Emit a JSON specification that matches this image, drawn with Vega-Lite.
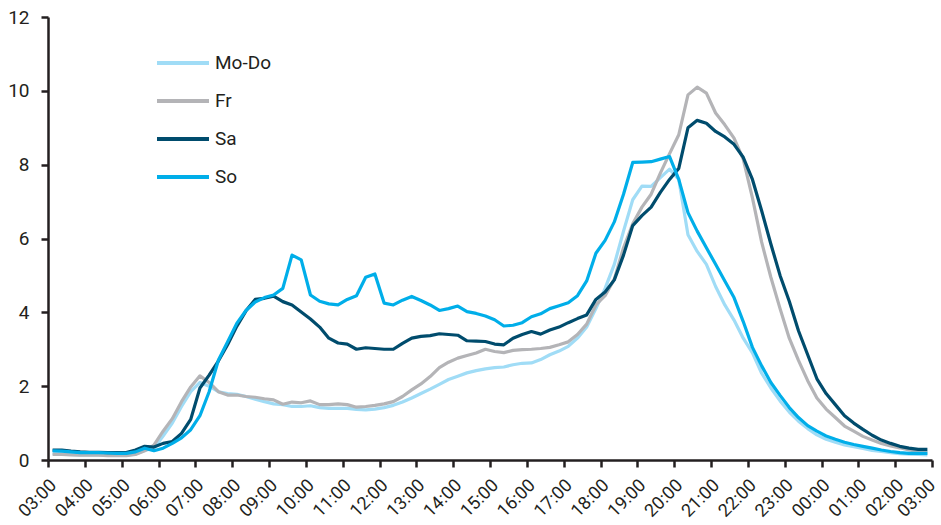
{
  "$schema": "https://vega.github.io/schema/vega-lite/v6.json",
  "width": 884,
  "height": 443,
  "autosize": {"type": "none"},
  "padding": {"left": 48, "top": 17, "right": 9, "bottom": 65},
  "background": "white",
  "config": {"view": {"stroke": null}, "font": "Roboto"},
  "data": {"values": [
    {"t":0.125,"Mo-Do":0.18,"Fr":0.15,"Sa":0.27,"So":0.25},
    {"t":0.375,"Mo-Do":0.17,"Fr":0.15,"Sa":0.27,"So":0.24},
    {"t":0.625,"Mo-Do":0.15,"Fr":0.14,"Sa":0.24,"So":0.22},
    {"t":0.875,"Mo-Do":0.14,"Fr":0.13,"Sa":0.22,"So":0.2},
    {"t":1.125,"Mo-Do":0.14,"Fr":0.13,"Sa":0.21,"So":0.2},
    {"t":1.375,"Mo-Do":0.14,"Fr":0.13,"Sa":0.21,"So":0.2},
    {"t":1.625,"Mo-Do":0.13,"Fr":0.12,"Sa":0.2,"So":0.19},
    {"t":1.875,"Mo-Do":0.13,"Fr":0.12,"Sa":0.2,"So":0.18},
    {"t":2.125,"Mo-Do":0.13,"Fr":0.12,"Sa":0.2,"So":0.18},
    {"t":2.375,"Mo-Do":0.16,"Fr":0.15,"Sa":0.27,"So":0.22},
    {"t":2.625,"Mo-Do":0.26,"Fr":0.25,"Sa":0.37,"So":0.32},
    {"t":2.875,"Mo-Do":0.32,"Fr":0.4,"Sa":0.35,"So":0.25},
    {"t":3.125,"Mo-Do":0.65,"Fr":0.78,"Sa":0.45,"So":0.32},
    {"t":3.375,"Mo-Do":1.0,"Fr":1.12,"Sa":0.5,"So":0.45},
    {"t":3.625,"Mo-Do":1.45,"Fr":1.58,"Sa":0.72,"So":0.6},
    {"t":3.875,"Mo-Do":1.85,"Fr":1.98,"Sa":1.1,"So":0.82},
    {"t":4.125,"Mo-Do":2.1,"Fr":2.28,"Sa":1.95,"So":1.2},
    {"t":4.375,"Mo-Do":2.0,"Fr":2.1,"Sa":2.3,"So":1.85},
    {"t":4.625,"Mo-Do":1.85,"Fr":1.85,"Sa":2.68,"So":2.7},
    {"t":4.875,"Mo-Do":1.8,"Fr":1.76,"Sa":3.12,"So":3.2},
    {"t":5.125,"Mo-Do":1.78,"Fr":1.76,"Sa":3.62,"So":3.7},
    {"t":5.375,"Mo-Do":1.72,"Fr":1.72,"Sa":4.04,"So":4.05},
    {"t":5.625,"Mo-Do":1.65,"Fr":1.7,"Sa":4.35,"So":4.28},
    {"t":5.875,"Mo-Do":1.58,"Fr":1.66,"Sa":4.38,"So":4.4},
    {"t":6.125,"Mo-Do":1.52,"Fr":1.63,"Sa":4.44,"So":4.47},
    {"t":6.375,"Mo-Do":1.5,"Fr":1.51,"Sa":4.29,"So":4.65},
    {"t":6.625,"Mo-Do":1.45,"Fr":1.57,"Sa":4.2,"So":5.55},
    {"t":6.875,"Mo-Do":1.45,"Fr":1.55,"Sa":4.01,"So":5.42},
    {"t":7.125,"Mo-Do":1.47,"Fr":1.6,"Sa":3.82,"So":4.47},
    {"t":7.375,"Mo-Do":1.42,"Fr":1.5,"Sa":3.6,"So":4.3},
    {"t":7.625,"Mo-Do":1.4,"Fr":1.5,"Sa":3.3,"So":4.23},
    {"t":7.875,"Mo-Do":1.4,"Fr":1.52,"Sa":3.17,"So":4.2},
    {"t":8.125,"Mo-Do":1.4,"Fr":1.5,"Sa":3.14,"So":4.35},
    {"t":8.375,"Mo-Do":1.37,"Fr":1.43,"Sa":3.0,"So":4.45},
    {"t":8.625,"Mo-Do":1.36,"Fr":1.45,"Sa":3.04,"So":4.95},
    {"t":8.875,"Mo-Do":1.38,"Fr":1.48,"Sa":3.02,"So":5.04},
    {"t":9.125,"Mo-Do":1.42,"Fr":1.52,"Sa":3.0,"So":4.25},
    {"t":9.375,"Mo-Do":1.48,"Fr":1.58,"Sa":3.0,"So":4.2},
    {"t":9.625,"Mo-Do":1.57,"Fr":1.72,"Sa":3.16,"So":4.33},
    {"t":9.875,"Mo-Do":1.68,"Fr":1.9,"Sa":3.3,"So":4.43},
    {"t":10.125,"Mo-Do":1.8,"Fr":2.06,"Sa":3.35,"So":4.32},
    {"t":10.375,"Mo-Do":1.92,"Fr":2.26,"Sa":3.37,"So":4.2},
    {"t":10.625,"Mo-Do":2.05,"Fr":2.5,"Sa":3.42,"So":4.05},
    {"t":10.875,"Mo-Do":2.18,"Fr":2.65,"Sa":3.4,"So":4.1},
    {"t":11.125,"Mo-Do":2.27,"Fr":2.76,"Sa":3.38,"So":4.17},
    {"t":11.375,"Mo-Do":2.36,"Fr":2.83,"Sa":3.23,"So":4.02},
    {"t":11.625,"Mo-Do":2.42,"Fr":2.9,"Sa":3.22,"So":3.97},
    {"t":11.875,"Mo-Do":2.47,"Fr":3.0,"Sa":3.21,"So":3.9},
    {"t":12.125,"Mo-Do":2.5,"Fr":2.94,"Sa":3.14,"So":3.8},
    {"t":12.375,"Mo-Do":2.52,"Fr":2.91,"Sa":3.12,"So":3.63},
    {"t":12.625,"Mo-Do":2.58,"Fr":2.97,"Sa":3.3,"So":3.65},
    {"t":12.875,"Mo-Do":2.62,"Fr":2.99,"Sa":3.4,"So":3.72},
    {"t":13.125,"Mo-Do":2.63,"Fr":3.0,"Sa":3.48,"So":3.88},
    {"t":13.375,"Mo-Do":2.72,"Fr":3.02,"Sa":3.41,"So":3.96},
    {"t":13.625,"Mo-Do":2.85,"Fr":3.05,"Sa":3.52,"So":4.1},
    {"t":13.875,"Mo-Do":2.95,"Fr":3.12,"Sa":3.6,"So":4.18},
    {"t":14.125,"Mo-Do":3.08,"Fr":3.2,"Sa":3.72,"So":4.26},
    {"t":14.375,"Mo-Do":3.3,"Fr":3.4,"Sa":3.83,"So":4.45},
    {"t":14.625,"Mo-Do":3.6,"Fr":3.68,"Sa":3.93,"So":4.85},
    {"t":14.875,"Mo-Do":4.1,"Fr":4.2,"Sa":4.35,"So":5.6},
    {"t":15.125,"Mo-Do":4.65,"Fr":4.45,"Sa":4.55,"So":5.95},
    {"t":15.375,"Mo-Do":5.3,"Fr":4.9,"Sa":4.88,"So":6.45},
    {"t":15.625,"Mo-Do":6.2,"Fr":5.75,"Sa":5.55,"So":7.2},
    {"t":15.875,"Mo-Do":7.05,"Fr":6.4,"Sa":6.35,"So":8.06},
    {"t":16.125,"Mo-Do":7.42,"Fr":6.85,"Sa":6.62,"So":8.07},
    {"t":16.375,"Mo-Do":7.41,"Fr":7.2,"Sa":6.85,"So":8.08},
    {"t":16.625,"Mo-Do":7.65,"Fr":7.77,"Sa":7.25,"So":8.15},
    {"t":16.875,"Mo-Do":7.88,"Fr":8.3,"Sa":7.6,"So":8.22},
    {"t":17.125,"Mo-Do":7.6,"Fr":8.81,"Sa":7.9,"So":7.6},
    {"t":17.375,"Mo-Do":6.1,"Fr":9.89,"Sa":9.0,"So":6.7},
    {"t":17.625,"Mo-Do":5.65,"Fr":10.1,"Sa":9.2,"So":6.2},
    {"t":17.875,"Mo-Do":5.3,"Fr":9.94,"Sa":9.12,"So":5.75},
    {"t":18.125,"Mo-Do":4.7,"Fr":9.4,"Sa":8.9,"So":5.3},
    {"t":18.375,"Mo-Do":4.2,"Fr":9.08,"Sa":8.75,"So":4.85},
    {"t":18.625,"Mo-Do":3.79,"Fr":8.72,"Sa":8.55,"So":4.4},
    {"t":18.875,"Mo-Do":3.3,"Fr":8.15,"Sa":8.2,"So":3.75},
    {"t":19.125,"Mo-Do":2.9,"Fr":7.1,"Sa":7.6,"So":3.05},
    {"t":19.375,"Mo-Do":2.35,"Fr":5.9,"Sa":6.75,"So":2.55},
    {"t":19.625,"Mo-Do":1.95,"Fr":4.95,"Sa":5.85,"So":2.1},
    {"t":19.875,"Mo-Do":1.6,"Fr":4.1,"Sa":5.0,"So":1.75},
    {"t":20.125,"Mo-Do":1.3,"Fr":3.3,"Sa":4.3,"So":1.42},
    {"t":20.375,"Mo-Do":1.05,"Fr":2.7,"Sa":3.5,"So":1.15},
    {"t":20.625,"Mo-Do":0.85,"Fr":2.15,"Sa":2.85,"So":0.93},
    {"t":20.875,"Mo-Do":0.68,"Fr":1.68,"Sa":2.2,"So":0.78},
    {"t":21.125,"Mo-Do":0.56,"Fr":1.38,"Sa":1.8,"So":0.65},
    {"t":21.375,"Mo-Do":0.48,"Fr":1.15,"Sa":1.5,"So":0.56},
    {"t":21.625,"Mo-Do":0.41,"Fr":0.92,"Sa":1.2,"So":0.48},
    {"t":21.875,"Mo-Do":0.36,"Fr":0.78,"Sa":1.0,"So":0.42},
    {"t":22.125,"Mo-Do":0.31,"Fr":0.64,"Sa":0.83,"So":0.37},
    {"t":22.375,"Mo-Do":0.26,"Fr":0.54,"Sa":0.67,"So":0.32},
    {"t":22.625,"Mo-Do":0.23,"Fr":0.45,"Sa":0.54,"So":0.27},
    {"t":22.875,"Mo-Do":0.2,"Fr":0.38,"Sa":0.45,"So":0.23},
    {"t":23.125,"Mo-Do":0.17,"Fr":0.33,"Sa":0.37,"So":0.2},
    {"t":23.375,"Mo-Do":0.16,"Fr":0.27,"Sa":0.32,"So":0.18},
    {"t":23.625,"Mo-Do":0.15,"Fr":0.23,"Sa":0.29,"So":0.18},
    {"t":23.875,"Mo-Do":0.14,"Fr":0.2,"Sa":0.29,"So":0.18}
  ]},
  "transform": [{"fold": ["Mo-Do", "Fr", "Sa", "So"], "as": ["series", "value"]}],
  "mark": {"type": "line", "strokeWidth": 3.2, "strokeJoin": "round", "clip": false},
  "encoding": {
    "x": {
      "field": "t", "type": "quantitative",
      "scale": {"domain": [0, 24], "nice": false, "zero": false},
      "axis": {
        "title": null, "grid": false,
        "values": [0,1,2,3,4,5,6,7,8,9,10,11,12,13,14,15,16,17,18,19,20,21,22,23,24],
        "labelExpr": "((((datum.value+3)%24)<10)?'0':'')+((datum.value+3)%24)+':00'",
        "labelAngle": -45, "labelAlign": "right", "labelBaseline": "top",
        "labelFont": "Roboto", "labelFontSize": 18, "labelColor": "#231f20",
        "labelPadding": 9,
        "labelOffset": {"condition": {"test": "datum.value >= 24", "value": -6}, "value": -1},
        "labelOverlap": false, "labelFlush": false,
        "domainColor": "#231f20", "domainWidth": 2.5,
        "tickColor": "#231f20", "tickWidth": 2.5, "tickSize": 7
      }
    },
    "y": {
      "field": "value", "type": "quantitative",
      "scale": {"domain": [0, 12], "nice": false},
      "axis": {
        "title": null, "grid": false, "values": [0,2,4,6,8,10,12],
        "labelFont": "Roboto", "labelFontSize": 19, "labelColor": "#231f20", "labelPadding": 12,
        "domainColor": "#231f20", "domainWidth": 2.5,
        "tickColor": "#231f20", "tickWidth": 2.5, "tickSize": 7
      }
    },
    "color": {
      "field": "series", "type": "nominal",
      "scale": {"domain": ["Mo-Do", "Fr", "Sa", "So"], "range": ["#a0dcf6", "#b4b4b7", "#004c6d", "#00aee9"]},
      "legend": {
        "title": null, "orient": "none", "legendX": 107, "legendY": 18,
        "symbolType": "stroke", "symbolSize": 2704, "symbolStrokeWidth": 4,
        "labelFont": "Roboto", "labelFontSize": 19, "labelColor": "#231f20", "labelOffset": 4,
        "rowPadding": -9.5
      }
    }
  }
}
